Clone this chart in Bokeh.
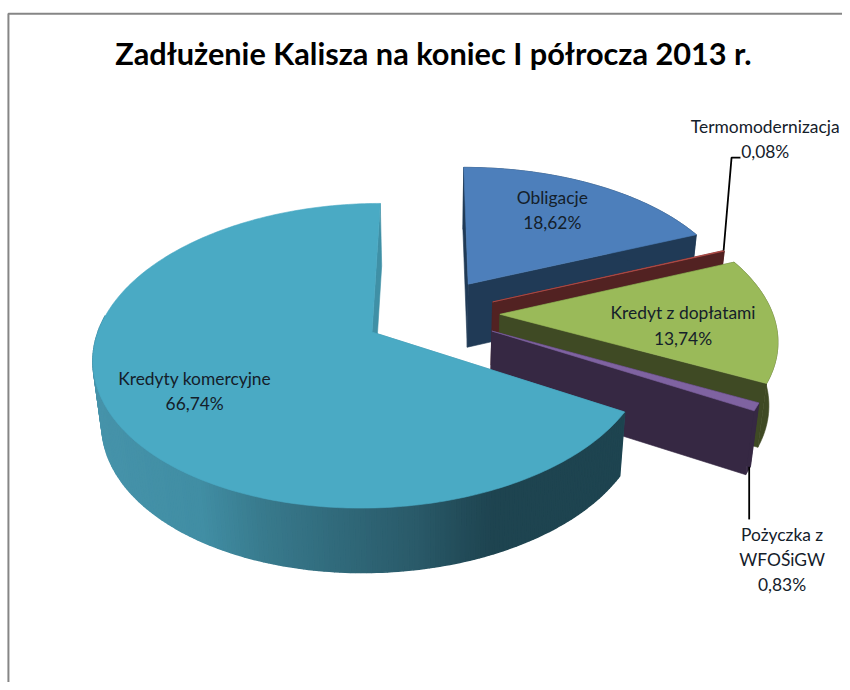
import numpy as np
from bokeh.plotting import figure
from bokeh.models import Range1d, ColumnDataSource
from bokeh.embed import file_html
from bokeh.resources import INLINE
from bokeh.core.properties import value

TITLE = "Zadłużenie Kalisza na koniec I półrocza 2013 r."
categories = ["Obligacje", "Termomodernizacja", "Kredyt z dopłatami", "Pożyczka z\nWFOŚiGW", "Kredyty komercyjne"]
shares = [18.62, 0.08, 13.74, 0.83, 66.74]
top_colors = ["#4d7fbb", "#b9504c", "#9aba59", "#7f63a1", "#4aaac4"]
wall_colors = ["#203a56", "#522222", "#3f4a24", "#362843", "#3f90a6"]

# projection parameters
CX, CY, RX, RY = 437.0, 318.0, 280.0, 145.0
K, M, H = 0.153, 0.027, 64.0
EXPLODE = 0.235
X_SCALE = [0.985, 0.985, 0.985, 0.97, 0.97]
X_SHIFT = [0.0, 0.0, 0.005, 0.0, -0.014]
Y_SHIFT = [0.025, 0.0, 0.012, 0.0, 0.0]
GRAD = [(85, "#4794ab"), (200, "#418ea4"), (260, "#397b8e"), (340, "#316a7b"),
        (420, "#2a5a69"), (470, "#224b58"), (500, "#1e4450"), (650, "#1e4450")]


def project(X, Y, z=0.0):
    X, Y = np.asarray(X, float), np.asarray(Y, float)
    w = 1 + K * Y
    s = 1 + M * z
    return CX + RX * X / w / s, CY - RY * Y / w / s + H * z / np.sqrt(w)


def hex_rgb(c):
    return np.array([int(c[i:i + 2], 16) for i in (1, 3, 5)], float)


def grad_color(x):
    xs = [g[0] for g in GRAD]
    rgb = np.array([hex_rgb(g[1]) for g in GRAD])
    v = [int(np.interp(x, xs, rgb[:, i])) for i in range(3)]
    return "#%02x%02x%02x" % tuple(v)


px, py, pf, pw = [], [], [], []


def add(xs, ys, color, width=0.6):
    px.append(list(xs)), py.append(list(ys)), pf.append(color), pw.append(width)


total = sum(shares)
cum = np.cumsum([0] + shares) / total * 2 * np.pi
rims = {}
for i, cat in enumerate(categories):
    a0, a1 = cum[i], cum[i + 1]
    mid = (a0 + a1) / 2
    ox = EXPLODE * np.sin(mid) + X_SHIFT[i]
    oy = EXPLODE * np.cos(mid) + Y_SHIFT[i]
    t = np.linspace(a0, a1, max(3, int((a1 - a0) * 60)))
    X, Y = ox + X_SCALE[i] * np.sin(t), oy + np.cos(t)
    # radial walls
    for e in (0, -1):
        ax, ay = project([ox, X[e]], [oy, Y[e]], 0)
        bx, by = project([ox, X[e]], [oy, Y[e]], 1)
        add([ax[0], ax[1], bx[1], bx[0]], [ay[0], ay[1], by[1], by[0]], wall_colors[i])
    # outer wall, front-facing part only
    tx, ty = project(X, Y, 0)
    bx, by = project(X, Y, 1)
    if i == 4:
        for j in range(len(t) - 1):
            if np.cos(t[j]) < 0.1:
                add([tx[j], tx[j + 1], bx[j + 1], bx[j]], [ty[j], ty[j + 1], by[j + 1], by[j]],
                    grad_color((tx[j] + tx[j + 1]) / 2), 1.6)
    else:
        add(list(tx) + list(bx[::-1]), list(ty) + list(by[::-1]), wall_colors[i])
    # top face
    ax, ay = project([ox], [oy], 0)
    add([ax[0]] + list(tx), [ay[0]] + list(ty), top_colors[i])
    rims[i] = (tx, ty, bx, by)

# 842x682 plus the 8px page margin fills the 850x690 window exactly
p = figure(width=842, height=682, x_range=Range1d(0, 850), y_range=Range1d(690, 0),
           toolbar_location=None, output_backend="svg", min_border=0,
           outline_line_color=None)
p.axis.visible = False
p.grid.visible = False

# chart frame (top and left only are in view)
p.line([8, 8, 850], [690, 13.5, 13.5], line_color="#868686", line_width=2)

p.patches(xs="x", ys="y", fill_color="c", line_color="c", line_width="w",
          source=ColumnDataSource(dict(x=px, y=py, c=pf, w=pw)))

# leader lines start on their slices' rims
tx, ty, bx, by = rims[1]
p.line([tx[0], 738, 747], [ty[0], 159, 159], line_color="#000000", line_width=1.8)
tx, ty, bx, by = rims[3]
p.line([bx[1] + 1, bx[1] + 1], [by[1] - 4, 525], line_color="#000000", line_width=1.8)

# labels
def pct(v):
    return f"{v:.2f}%".replace(".", ",")

label_pos = [(557, 199), (772, 127), (689, 316), (789, 540), (196, 382)]
LINE = 25.5
lx, ly, lt = [], [], []
for (x, y), cat, v in zip(label_pos, categories, shares):
    for n, s in enumerate(cat.split("\n") + [pct(v)]):
        lx.append(x), ly.append(y + n * LINE), lt.append(s)
p.text(x="x", y="y", text="t", source=ColumnDataSource(dict(x=lx, y=ly, t=lt)),
       text_font=value("Lato"), text_font_size="17.4px", text_color="#14202a",
       text_align="center", text_baseline="middle")
p.text(x=[437], y=[54], text=[TITLE], text_font=value("Lato"), text_font_size="30.7px",
       text_font_style="bold", text_color="#000000", text_align="center", text_baseline="middle")

open("out.html", "w").write(file_html(p, INLINE))
